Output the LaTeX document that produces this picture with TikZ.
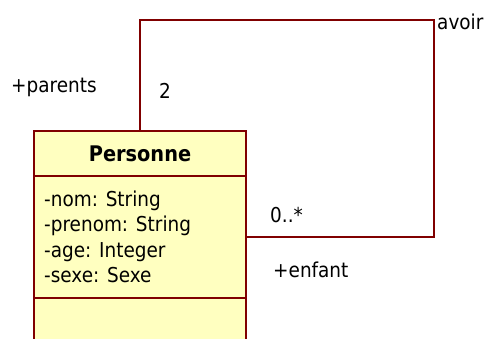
\documentclass[tikz,border=0pt]{standalone}
\usepackage{fontspec}
\setmainfont{DejaVu Sans Condensed}
\definecolor{umlline}{HTML}{800000}
\definecolor{umlfill}{HTML}{FFFFC0}
\begin{document}
\begin{tikzpicture}[x=1pt,y=-1pt,
  classpart/.style={draw=umlline,fill=umlfill,line width=1.8pt,rectangle,minimum width=212pt,inner sep=0pt},
  assoc/.style={draw=umlline,line width=1.4pt},
  lbl/.style={inner sep=0pt,font=\fontsize{20.5}{24}\selectfont},
  attr/.style={lbl,anchor=base west}]
\useasboundingbox (0,0) rectangle (487,338);
\node[classpart,minimum height=45pt] (head) at (140,153.5) {};
\node[lbl,font=\fontsize{21.5}{24}\selectfont\bfseries] (title) at (140,154) {Personne};
\node[classpart,minimum height=122pt] (attrs) at (140,237) {};
\node[classpart,minimum height=50pt] (ops) at (140,323) {};
\node[attr] (a1) at (44,206) {-nom: String};
\node[attr] (a2) at (44,231.5) {-prenom: String};
\node[attr] (a3) at (44,257) {-age: Integer};
\node[attr] (a4) at (44,282.5) {-sexe: Sexe};
\coordinate (tr) at (434,20);
\draw[assoc] (head.north) |- (tr) |- (attrs.east);
\node[lbl,anchor=west] (avoir) at (437,22) {avoir};
\node[lbl,anchor=west] (parents) at (11,87) {+parents};
\node[lbl,anchor=west] (m2) at (159,91) {2};
\node[lbl,anchor=west] (m0) at (270,215) {0..*};
\node[lbl,anchor=west] (enfant) at (273,270) {+enfant};
\end{tikzpicture}
\end{document}
